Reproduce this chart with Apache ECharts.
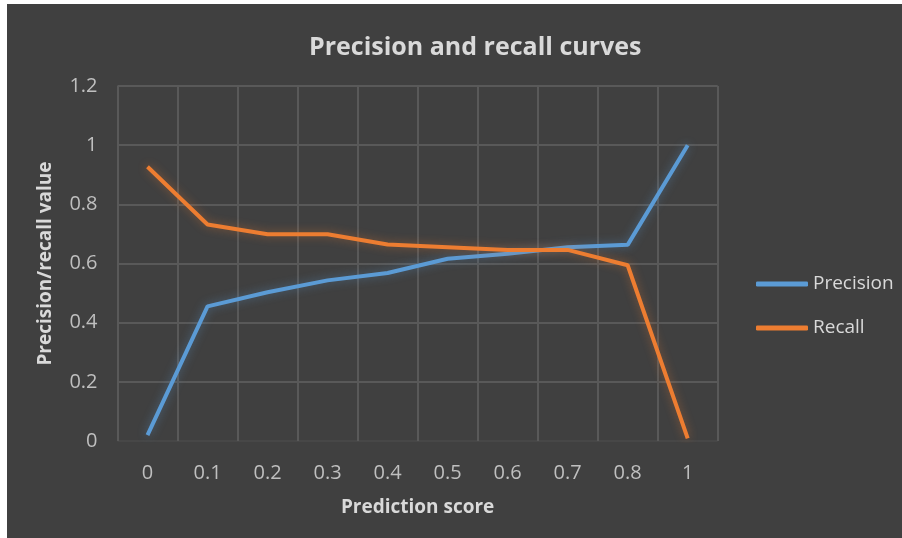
<!DOCTYPE html>
<html>
<head>
<meta charset="utf-8">
<script src="https://cdn.jsdelivr.net/npm/echarts@6/dist/echarts.min.js"></script>
<style>
  body { margin: 0; background: #ffffff; }
  #main { position: absolute; left: 7px; top: 4px; width: 895px; height: 534px; }
</style>
</head>
<body>
<div id="main"></div>
<script>
var categories = ['0', '0.1', '0.2', '0.3', '0.4', '0.5', '0.6', '0.7', '0.8', '1'];
var precision = [0.02, 0.455, 0.503, 0.543, 0.568, 0.616, 0.633, 0.655, 0.663, 1.0];
var recall = [0.927, 0.732, 0.699, 0.699, 0.664, 0.655, 0.646, 0.646, 0.594, 0.009];

var fontName = '"Open Sans", "DejaVu Sans", sans-serif';
var myChart = echarts.init(document.getElementById('main'));

var option = {
    backgroundColor: '#404040',
    animation: false,
    title: {
        text: 'Precision and recall curves',
        left: 297,
        top: 26,
        textStyle: {
            color: '#d9d9d9',
            fontSize: 25,
            fontWeight: 'bold',
            fontFamily: fontName
        }
    },
    grid: {
        left: 110.5,
        right: 184.3,
        top: 82,
        bottom: 97
    },
    legend: {
        orient: 'vertical',
        left: 744,
        top: 265,
        itemWidth: 52,
        itemHeight: 5,
        itemGap: 24,
        icon: 'roundRect',
        textStyle: {
            color: '#d9d9d9',
            fontSize: 19,
            lineHeight: 20,
            fontFamily: fontName
        },
        data: ['Precision', 'Recall']
    },
    xAxis: {
        type: 'category',
        data: categories,
        boundaryGap: true,
        name: 'Prediction score',
        nameLocation: 'middle',
        nameGap: 57,
        nameTextStyle: {
            color: '#d9d9d9',
            fontSize: 19,
            fontWeight: 'bold',
            fontFamily: fontName
        },
        axisLine: { show: false },
        axisTick: { show: false },
        axisLabel: {
            color: '#bfbfbf',
            fontSize: 20,
            margin: 22,
            fontFamily: fontName
        },
        splitLine: {
            show: true,
            interval: 0,
            lineStyle: { color: '#595959', width: 2 }
        }
    },
    yAxis: {
        type: 'value',
        min: 0,
        max: 1.2,
        interval: 0.2,
        name: 'Precision/recall value',
        nameLocation: 'middle',
        nameGap: 62,
        nameTextStyle: {
            color: '#d9d9d9',
            fontSize: 19,
            fontWeight: 'bold',
            fontFamily: fontName
        },
        axisLine: { show: false },
        axisTick: { show: false },
        axisLabel: {
            color: '#bfbfbf',
            fontSize: 20,
            margin: 20,
            fontFamily: fontName,
            formatter: function (v) { return String(Math.round(v * 10) / 10); }
        },
        splitLine: {
            lineStyle: { color: ['#474747', '#595959', '#595959', '#595959', '#595959', '#595959', '#595959'], width: 2 }
        }
    },
    series: [{
        name: 'Precision',
        type: 'line',
        data: precision,
        showSymbol: false,
        symbol: 'none',
        color: '#5b9bd5',
        lineStyle: {
            width: 4,
            color: '#5b9bd5',
            shadowColor: 'rgba(91,155,213,0.45)',
            shadowBlur: 10
        }
    }, {
        name: 'Recall',
        type: 'line',
        data: recall,
        showSymbol: false,
        symbol: 'none',
        color: '#ed7d31',
        lineStyle: {
            width: 4,
            color: '#ed7d31',
            shadowColor: 'rgba(237,125,49,0.45)',
            shadowBlur: 10
        }
    }]
};
myChart.setOption(option, true);
</script>
</body>
</html>
